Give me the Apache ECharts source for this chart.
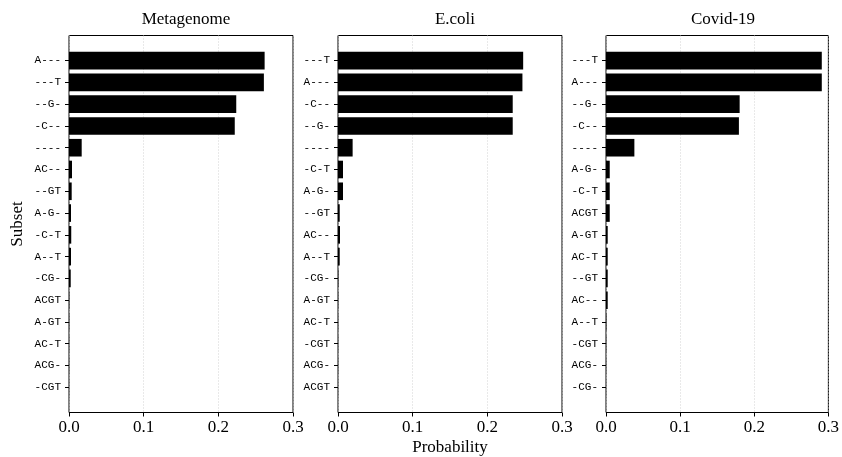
<!DOCTYPE html>
<html>
<head>
<meta charset="utf-8">
<script src="https://cdn.jsdelivr.net/npm/echarts@6/dist/echarts.min.js"></script>
<style>html,body{margin:0;padding:0;background:#fff}#c{width:842px;height:457px}</style>
</head>
<body>
<div id="c"></div>
<script>
// ---- data ----
var titles = ['Metagenome', 'E.coli', 'Covid-19'];
var metaCats = ['A---','---T','--G-','-C--','----','AC--','--GT','A-G-','-C-T','A--T','-CG-','ACGT','A-GT','AC-T','ACG-','-CGT'];
var metaVals = [0.262,0.261,0.224,0.222,0.017,0.004,0.0036,0.0027,0.003,0.0027,0.0023,0.0004,0.0003,0.0002,0.0002,0.0001];
var ecoliCats = ['---T','A---','-C--','--G-','----','-C-T','A-G-','--GT','AC--','A--T','-CG-','A-GT','AC-T','-CGT','ACG-','ACGT'];
var ecoliVals = [0.248,0.247,0.234,0.234,0.0196,0.0067,0.0067,0.0023,0.0027,0.0023,0.0005,0.0003,0.0002,0.0002,0.0002,0.0001];
var covidCats = ['---T','A---','--G-','-C--','----','A-G-','-C-T','ACGT','A-GT','AC-T','--GT','AC--','A--T','-CGT','ACG-','-CG-'];
var covidVals = [0.289,0.289,0.179,0.178,0.038,0.005,0.005,0.005,0.0023,0.0023,0.0023,0.0023,0.0005,0.0003,0.0002,0.0001];
var xTicks = [0, 0.1, 0.2, 0.3];

var panels = [
  {cats: metaCats, vals: metaVals},
  {cats: ecoliCats, vals: ecoliVals},
  {cats: covidCats, vals: covidVals}
];
var lefts = [69, 338, 606];
var W = 224;
var frameTop = 35.5, frameH = 377;
var dataTop = 49.7, dataH = 348.5;
var serif = 'Liberation Serif';
var mono = 'Liberation Mono';

var grid = [], xAxis = [], yAxis = [], series = [], title = [];
panels.forEach(function (p, i) {
  var L = lefts[i];
  grid.push({left: L, top: frameTop, width: W, height: frameH, show: true, borderColor: '#000', borderWidth: 1, backgroundColor: 'transparent'});
  grid.push({left: L, top: dataTop, width: W, height: dataH});
  xAxis.push({
    gridIndex: 2 * i, type: 'value', min: xTicks[0], max: xTicks[xTicks.length - 1], interval: 0.1,
    axisLine: {show: false},
    axisTick: {show: true, length: 4, lineStyle: {color: '#000'}},
    axisLabel: {color: '#000', fontFamily: serif, fontSize: 17, margin: 7, formatter: function (v) { return v.toFixed(1); }},
    splitLine: {show: true, lineStyle: {color: '#c8c8c8', type: [1, 2], width: 0.8}}
  });
  xAxis.push({gridIndex: 2 * i + 1, type: 'value', min: 0, max: 0.3, show: false});
  yAxis.push({gridIndex: 2 * i, type: 'value', min: 0, max: 1, show: false});
  yAxis.push({
    gridIndex: 2 * i + 1, type: 'category', inverse: true, data: p.cats,
    axisLine: {show: false},
    axisTick: {show: true, alignWithLabel: true, length: 4, lineStyle: {color: '#000'}},
    axisLabel: {color: '#000', fontFamily: mono, fontSize: 11, margin: 8}
  });
  series.push({
    type: 'bar', xAxisIndex: 2 * i + 1, yAxisIndex: 2 * i + 1, data: p.vals,
    barWidth: 17.6, itemStyle: {color: '#000'}, silent: true
  });
  title.push({
    text: titles[i], left: L + W / 2, top: 6, textAlign: 'center',
    textStyle: {fontFamily: serif, fontSize: 17, fontWeight: 'normal', color: '#000'}
  });
});

var chart = echarts.init(document.getElementById('c'), null, {renderer: 'canvas'});
chart.setOption({
  animation: false,
  backgroundColor: '#fff',
  title: title,
  grid: grid,
  xAxis: xAxis,
  yAxis: yAxis,
  series: series,
  graphic: [
    {type: 'text', x: 18, y: 224, rotation: Math.PI / 2, style: {text: 'Subset', font: '17px "Liberation Serif"', fill: '#000', align: 'center', verticalAlign: 'middle'}},
    {type: 'text', x: 450, y: 448, style: {text: 'Probability', font: '17px "Liberation Serif"', fill: '#000', align: 'center', verticalAlign: 'middle'}}
  ]
});
</script>
</body>
</html>
